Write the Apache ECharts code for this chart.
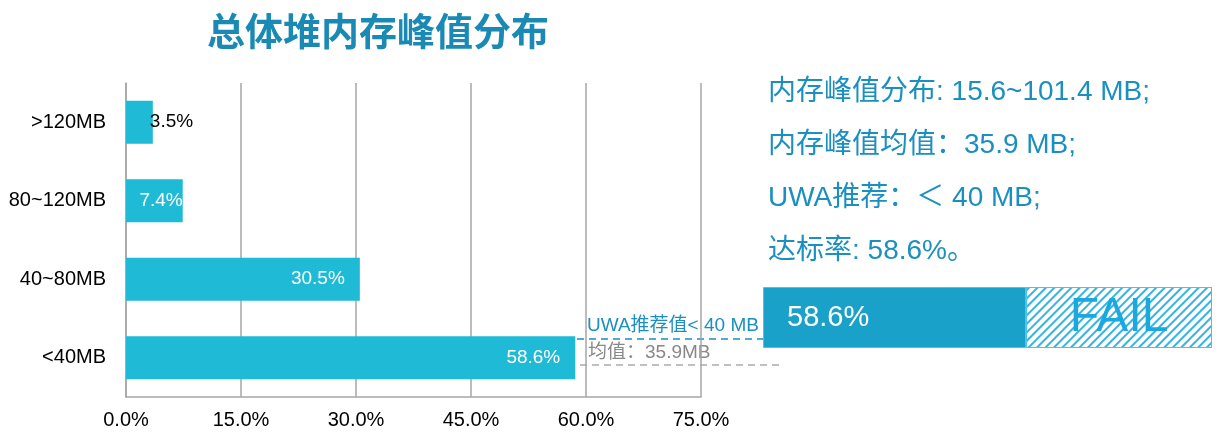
<!DOCTYPE html>
<html>
<head>
<meta charset="utf-8">
<script src="https://cdn.jsdelivr.net/npm/echarts@6/dist/echarts.min.js"></script>
<style>html,body{margin:0;padding:0;background:#fff}#c{width:1221px;height:440px}</style>
</head>
<body>
<div id="c"></div>
<script>
// ---- data ----
var title = '总体堆内存峰值分布';
var categories = ['>120MB', '80~120MB', '40~80MB', '<40MB'];
var shares = [3.5, 7.4, 30.5, 58.6];
var xTicks = [0, 15, 30, 45, 60, 75];
var passRate = 58.6;
var summaryLines = [
  '内存峰值分布: 15.6~101.4 MB;',
  '内存峰值均值：35.9 MB;',
  'UWA推荐：＜ 40 MB;',
  '达标率: 58.6%。'
];
var recommendText = 'UWA推荐值< 40 MB';
var meanText = '均值：35.9MB';
var failText = 'FAIL';

var FONT = '"Liberation Sans", Arial, "Noto Sans CJK SC", sans-serif';
var CJK = '"Liberation Sans", Arial, "Noto Sans CJK SC", sans-serif';
var barColor = '#1fbad6';
var textBlue = '#1a8fc0';

var chart = echarts.init(document.getElementById('c'), null, {renderer: 'canvas'});

var barData = shares.map(function (v, i) {
  var lab;
  if (i === 0) {
    lab = {show: true, position: 'right', distance: -3, color: '#000'};
  } else if (i === 1) {
    lab = {show: true, position: 'insideRight', distance: 0, color: '#fff'};
  } else {
    lab = {show: true, position: 'insideRight', distance: 15, color: '#fff'};
  }
  return {value: v, label: lab};
});

var summaryGraphics = summaryLines.map(function (t, i) {
  return {
    type: 'text', left: 768, top: 78 + i * 53,
    style: {text: t, fill: textBlue, font: '28px ' + CJK}
  };
});

var option = {
  backgroundColor: '#fff',
  animation: false,
  title: {
    text: title, left: 202, top: 11,
    textStyle: {color: '#1a8ab5', fontSize: 38, fontWeight: 'bold', fontFamily: CJK}
  },
  grid: [
    {left: 126, top: 83, width: 575, height: 314, containLabel: false},
    {left: 763, top: 287, width: 449, height: 61, containLabel: false}
  ],
  xAxis: [
    {
      gridIndex: 0, type: 'value', min: 0, max: 75, interval: 15,
      axisLine: {show: true, lineStyle: {color: '#a6a6a6', width: 1.5}},
      axisTick: {show: false},
      axisLabel: {color: '#000', fontSize: 20, fontFamily: FONT, margin: 13,
        formatter: function (v) { return v.toFixed(1) + '%'; }},
      splitLine: {show: true, lineStyle: {color: '#a6a6a6', width: 1.5}}
    },
    {
      gridIndex: 1, type: 'value', min: 0, max: 100, show: false
    }
  ],
  yAxis: [
    {
      gridIndex: 0, type: 'category', data: categories, inverse: true,
      axisLine: {show: true, lineStyle: {color: '#a6a6a6', width: 1.5}},
      axisTick: {show: false},
      axisLabel: {color: '#000', fontSize: 20, fontFamily: FONT, margin: 20}
    },
    {
      gridIndex: 1, type: 'category', data: ['rate'], show: false
    }
  ],
  series: [
    {
      type: 'bar', xAxisIndex: 0, yAxisIndex: 0, data: barData,
      barWidth: 43,
      itemStyle: {color: barColor},
      label: {fontSize: 19, fontFamily: FONT,
        formatter: function (p) { return p.value.toFixed(1) + '%'; }}
    },
    {
      type: 'bar', xAxisIndex: 1, yAxisIndex: 1, stack: 'p', data: [passRate],
      barWidth: 61,
      itemStyle: {color: '#1aa1c9', borderColor: '#4fc3e6', borderWidth: 1},
      label: {show: true, position: 'insideLeft', distance: 24, color: '#fff',
        fontSize: 29, fontFamily: FONT,
        formatter: function (p) { return p.value.toFixed(1) + '%'; }}
    },
    {
      type: 'bar', xAxisIndex: 1, yAxisIndex: 1, stack: 'p', data: [100 - passRate],
      barWidth: 61,
      itemStyle: {
        color: '#fff', borderColor: '#4fc3e6', borderWidth: 1,
        decal: {symbol: 'rect', symbolSize: 1, color: '#35b3e2',
          dashArrayX: [1, 0], dashArrayY: [2, 4], rotation: -Math.PI / 4}
      },
      label: {show: true, position: 'inside', color: '#1aa8e0', fontSize: 48,
        fontFamily: FONT, formatter: function () { return failText; }}
    }
  ],
  graphic: summaryGraphics.concat([
    {
      type: 'line', shape: {x1: 577, y1: 339, x2: 763, y2: 339},
      style: {stroke: textBlue, lineWidth: 1.5, lineDash: [7, 5]}
    },
    {
      type: 'line', shape: {x1: 580, y1: 365, x2: 780, y2: 365},
      style: {stroke: '#aaaaaa', lineWidth: 1.5, lineDash: [7, 5]}
    },
    {
      type: 'text', left: 587, top: 316,
      style: {text: recommendText, fill: textBlue, font: '19px ' + CJK}
    },
    {
      type: 'text', left: 588, top: 343,
      style: {text: meanText, fill: '#888888', font: '19px ' + CJK}
    }
  ])
};
chart.setOption(option);
</script>
</body>
</html>
